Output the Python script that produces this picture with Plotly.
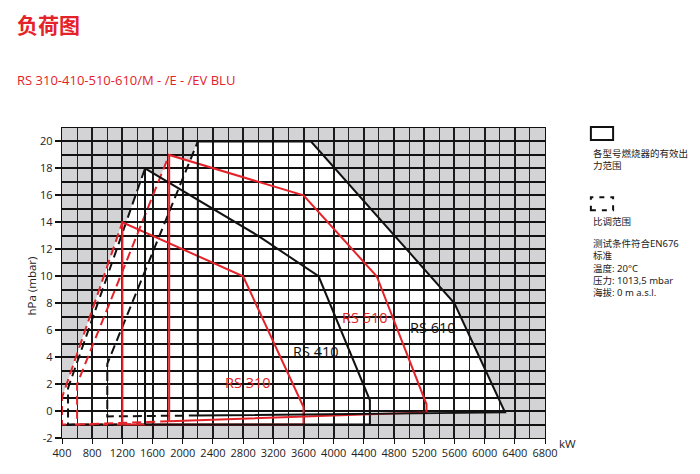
import plotly.graph_objects as go

RED = "#e42229"
BLACK = "#111111"

# ---- data (kW, hPa) ----
rs310_kw = [1200, 1200, 2800, 3600, 3600, 1200]
rs310_hpa = [-1, 14, 10, 0.3, -1, -1]
rs310_mod_kw = [1200, 400, 400, 1200]
rs310_mod_hpa = [-1, -1, 1, 14]

rs410_kw = [1500, 1500, 3000, 3800, 4480, 4480, 1500]
rs410_hpa = [-1, 18, 13, 10, 0.8, -1, -1]
rs410_mod_kw = [1500, 480, 480, 1500]
rs410_mod_hpa = [-1, -1, 1.7, 18]

rs510_kw = [1820, 1820, 3600, 4570, 5230, 5230, 1820]
rs510_hpa = [-0.76, 19, 16, 10, 0.5, -0.1, -0.76]
rs510_mod_kw = [1820, 600, 600, 1820]
rs510_mod_hpa = [-0.76, -1, 2, 19]

rs610_kw = [2200, 2200, 3700, 5600, 6270, 2200]
rs610_hpa = [-0.33, 20, 20, 8, -0.1, -0.33]
rs610_mod_kw = [2200, 1000, 1000, 2200]
rs610_mod_hpa = [-0.33, -0.4, 3.5, 20]

x_ticks = [400, 800, 1200, 1600, 2000, 2400, 2800, 3200, 3600, 4000, 4400,
           4800, 5200, 5600, 6000, 6400, 6800]
y_ticks = [-2, 0, 2, 4, 6, 8, 10, 12, 14, 16, 18, 20]

models = [
    ("RS 310", rs310_kw, rs310_hpa, rs310_mod_kw, rs310_mod_hpa, RED),
    ("RS 410", rs410_kw, rs410_hpa, rs410_mod_kw, rs410_mod_hpa, BLACK),
    ("RS 510", rs510_kw, rs510_hpa, rs510_mod_kw, rs510_mod_hpa, RED),
    ("RS 610", rs610_kw, rs610_hpa, rs610_mod_kw, rs610_mod_hpa, BLACK),
]

fig = go.Figure()
shapes = []

# white working areas (below the grid)
for name, kw, hpa, mkw, mhpa, col in models:
    pkw = mkw + kw[2:-1]
    phpa = mhpa + hpa[2:-1]
    path = "M " + " L ".join(f"{a},{b}" for a, b in zip(pkw, phpa)) + " Z"
    shapes.append(dict(type="path", path=path, xref="x", yref="y",
                       fillcolor="white", line=dict(width=0), layer="below"))

# outlines
for name, kw, hpa, mkw, mhpa, col in models:
    fig.add_trace(go.Scatter(x=mkw, y=mhpa, mode="lines",
                             line=dict(color=col, width=2, dash="9px,5px"),
                             hoverinfo="skip", showlegend=False))
for name, kw, hpa, mkw, mhpa, col in models:
    fig.add_trace(go.Scatter(x=kw, y=hpa, mode="lines",
                             line=dict(color=col, width=2),
                             hoverinfo="skip", showlegend=False, name=name))

label_font = dict(family="Open Sans, Noto Sans", size=14.5)
labels = [("RS 310", 2865, 2.15, RED), ("RS 410", 3766, 4.39, BLACK),
          ("RS 510", 4415, 6.92, RED), ("RS 610", 5316, 6.18, BLACK)]
annotations = []
for t, x, y, c in labels:
    annotations.append(dict(text=t, x=x, y=y, xref="x", yref="y", showarrow=False,
                            font=dict(label_font, color=c)))

# legend icons
shapes.append(dict(type="rect", xref="paper", yref="paper",
                   x0=1.095, x1=1.141, y0=0.961, y1=1.003,
                   line=dict(color=BLACK, width=2), fillcolor="white"))
shapes.append(dict(type="rect", xref="paper", yref="paper",
                   x0=1.095, x1=1.141, y0=0.735, y1=0.777,
                   line=dict(color=BLACK, width=2, dash="5px,6px"), fillcolor="rgba(0,0,0,0)"))

small = dict(family="Noto Sans, Noto Sans CJK SC", size=9.5, color="#222222")
annotations += [
    dict(text="<b>负荷图</b>", xref="paper", yref="paper",
         x=-0.097, y=1.335, xanchor="left", yanchor="middle", showarrow=False,
         font=dict(family="Noto Sans CJK SC", size=21, color=RED)),
    dict(text="各型号燃烧器的有效出<br>力范围", xref="paper", yref="paper",
         x=1.095, y=0.945, xanchor="left", yanchor="top", align="left",
         showarrow=False, font=small),
    dict(text="比调范围", xref="paper", yref="paper",
         x=1.095, y=0.726, xanchor="left", yanchor="top", align="left",
         showarrow=False, font=small),
    dict(text="测试条件符合EN676<br>标准<br>温度: 20°C<br>压力: 1013,5 mbar<br>海拔: 0 m a.s.l.",
         xref="paper", yref="paper", x=1.095, y=0.656, xanchor="left", yanchor="top",
         align="left", showarrow=False, font=small),
    dict(text="RS 310-410-510-610/M - /E - /EV BLU", xref="paper", yref="paper",
         x=-0.097, y=1.155, xanchor="left", yanchor="middle", showarrow=False,
         font=dict(family="Open Sans, Noto Sans", size=13, color=RED)),
    dict(text="hPa (mbar)", xref="paper", yref="paper", x=-0.083, y=0.49,
         textangle=-90, showarrow=False,
         font=dict(family="Open Sans, Noto Sans", size=11.5, color="#222222")),
    dict(text="kW", xref="paper", yref="paper", x=1.068, y=-0.047,
         showarrow=False, font=dict(family="Open Sans, Noto Sans", size=11.5, color="#222222")),
]

# page body has an 8px default margin: size the figure so it lands like the reference
fig.update_layout(
    width=692, height=466,
    margin=dict(l=54, r=155, t=120, b=36),
    paper_bgcolor="white",
    plot_bgcolor="#d3d3d5",
    shapes=shapes,
    annotations=annotations,
    font=dict(family="Open Sans, Noto Sans", color="#222222"),
)
fig.update_xaxes(range=[400, 6800], tickvals=x_ticks, ticktext=[str(v) for v in x_ticks],
                 showgrid=True, gridcolor="#1a1a1a", gridwidth=1.5,
                 minor=dict(dtick=200, tick0=400, showgrid=True, gridcolor="#222222", gridwidth=1.4),
                 ticks="outside", ticklen=5, tickcolor=BLACK, tickwidth=1.3,
                 showline=True, linecolor=BLACK, linewidth=1.3, mirror=True,
                 tickfont=dict(size=11, color="#222222"), zeroline=False)
fig.update_yaxes(range=[-2, 21], tickvals=y_ticks, ticktext=[str(v) for v in y_ticks],
                 showgrid=True, gridcolor="#111111", gridwidth=1.6,
                 minor=dict(dtick=1, tick0=-2, showgrid=True, gridcolor="#111111", gridwidth=1.6),
                 ticks="outside", ticklen=6, tickcolor=BLACK, tickwidth=1.5,
                 showline=True, linecolor=BLACK, linewidth=1.3, mirror=True,
                 tickfont=dict(size=11, color="#222222"), zeroline=False)

fig.write_html("out.html")
